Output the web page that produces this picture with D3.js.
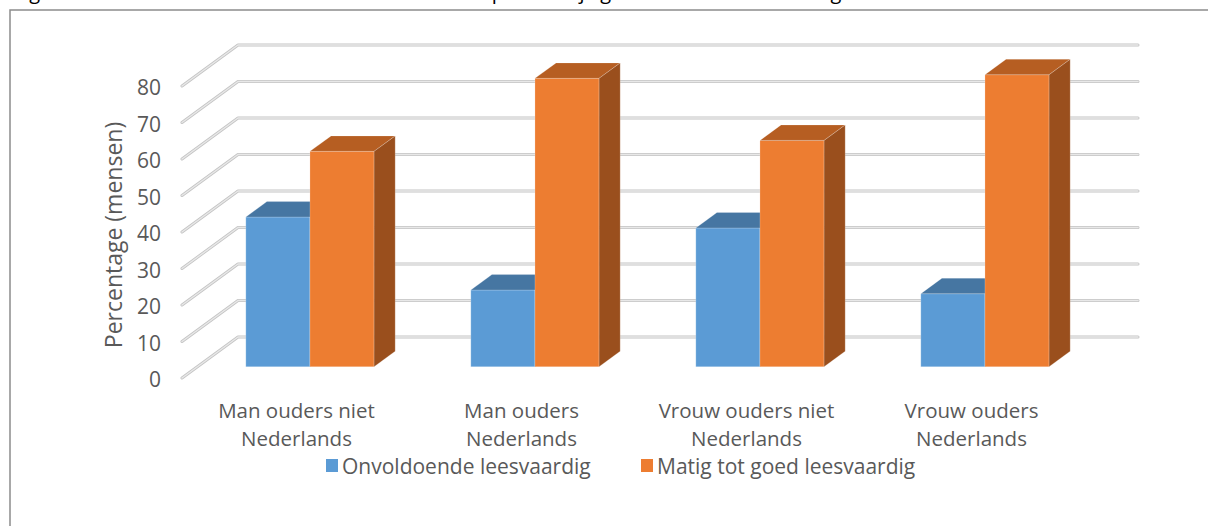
<!DOCTYPE html>
<html>
<head>
<meta charset="utf-8">
<script src="https://cdn.jsdelivr.net/npm/d3@7"></script>
<style>
  body { margin: 0; background: #fff; }
  svg { display: block; font-family: 'Open Sans', sans-serif; }
</style>
</head>
<body>
<div id="vis"></div>
<script>

var categories = ['Man ouders niet Nederlands', 'Man ouders Nederlands', 'Vrouw ouders niet Nederlands', 'Vrouw ouders Nederlands'];
var catLines = [['Man ouders niet', 'Nederlands'], ['Man ouders', 'Nederlands'], ['Vrouw ouders niet', 'Nederlands'], ['Vrouw ouders', 'Nederlands']];
var series = ['Onvoldoende leesvaardig', 'Matig tot goed leesvaardig'];
var onvoldoende = [41, 21, 38, 20];
var matig = [59, 79, 62, 80];
var yTicks = [0, 10, 20, 30, 40, 50, 60, 70, 80];

var width = 1208;
var height = 526;

// 3d depth offset of the plot box
var DX = 56, DY = 41;
var d0 = 0.276, d1 = 0.653;

var colors = {
    front: ['#5B9BD5', '#ED7D31'],
    top: ['#4676A2', '#B65E22'],
    side: ['#3E6A93', '#9A4F1D']
};

var svg = d3.select('#vis').append('svg')
    .attr('width', width)
    .attr('height', height);

// caption, mostly cut off by the top of the page
svg.append('text')
    .attr('x', 14)
    .attr('y', -1)
    .attr('font-size', 20)
    .attr('fill', '#000')
    .text('Figuur 10: Scores van mannen en vrouwen naar respectievelijk geboorteland ouders en geslacht');

svg.append('rect')
    .attr('x', 10).attr('y', 10)
    .attr('width', 1400).attr('height', 700)
    .attr('fill', 'none')
    .attr('stroke', '#8c8c8c')
    .attr('stroke-width', 1.5);

var y = d3.scaleLinear().domain([0, 80]).range([378, 86]);
var x = d3.scaleBand().domain(categories).range([182, 1082])
    .paddingInner(0.43).paddingOuter(0.215);
var xs = d3.scaleBand().domain(series).range([0, x.bandwidth()]);

function P(xf, v, d) {
    return [xf + d * DX, y(v) - d * DY];
}

var line = d3.line();

// walls
var grid = svg.append('g');
yTicks.forEach(function (v) {
    var pts = [P(182, v, 0), P(182, v, 1), P(1082, v, 1)];
    grid.append('path')
        .attr('d', line(pts))
        .attr('fill', 'none')
        .attr('stroke', '#c4c4c4')
        .attr('stroke-width', 3)
        .attr('stroke-linejoin', 'round')
        .attr('stroke-linecap', 'round');
    grid.append('path')
        .attr('d', line(pts))
        .attr('fill', 'none')
        .attr('stroke', '#e8e8e8')
        .attr('stroke-width', 1.4)
        .attr('stroke-linejoin', 'round')
        .attr('stroke-linecap', 'round');
});

// tick labels
svg.append('g').selectAll('text')
    .data(yTicks)
    .enter().append('text')
    .attr('x', 161)
    .attr('y', function (d) { return y(d) + 1; })
    .attr('text-anchor', 'end')
    .attr('dominant-baseline', 'central')
    .attr('font-size', 21)
    .attr('fill', '#595959')
    .text(function (d) { return d; });

svg.append('text')
    .attr('transform', 'translate(122,235) rotate(-90)')
    .attr('text-anchor', 'middle')
    .attr('font-size', 23)
    .attr('fill', '#595959')
    .text('Percentage (mensen)');

// bars
var bars = [];
categories.forEach(function (c, i) {
    [onvoldoende[i], matig[i]].forEach(function (v, s) {
        bars.push({ cat: c, s: s, value: v });
    });
});

var barG = svg.append('g');
bars.forEach(function (b) {
    var x0 = x(b.cat) + xs(series[b.s]);
    var x1 = x0 + xs.bandwidth();
    var v = b.value;
    var g = barG.append('g');
    g.append('path')
        .attr('d', line([P(x0, 0, d0), P(x1, 0, d0), P(x1, v, d0), P(x0, v, d0)]) + 'Z')
        .attr('fill', colors.front[b.s]);
    g.append('path')
        .attr('d', line([P(x0, v, d0), P(x1, v, d0), P(x1, v, d1), P(x0, v, d1)]) + 'Z')
        .attr('fill', colors.top[b.s]);
    g.append('path')
        .attr('d', line([P(x1, 0, d0), P(x1, v, d0), P(x1, v, d1), P(x1, 0, d1)]) + 'Z')
        .attr('fill', colors.side[b.s]);
    g.selectAll('path')
        .attr('stroke', 'rgba(255,255,255,0.25)')
        .attr('stroke-width', 0.8)
        .attr('stroke-linejoin', 'round');
});

// category labels
var catG = svg.append('g');
categories.forEach(function (c, i) {
    catLines[i].forEach(function (t, j) {
        catG.append('text')
            .attr('x', x(c) + x.bandwidth() / 2 + 2)
            .attr('y', 410 + j * 28)
            .attr('text-anchor', 'middle')
            .attr('dominant-baseline', 'central')
            .attr('font-size', 20.5)
            .attr('fill', '#595959')
            .text(t);
    });
});

// legend
var legendX = [326, 641];
var legend = svg.append('g');
series.forEach(function (s, i) {
    legend.append('rect')
        .attr('x', legendX[i]).attr('y', 459)
        .attr('width', 12).attr('height', 13)
        .attr('fill', colors.front[i]);
    legend.append('text')
        .attr('x', legendX[i] + 16)
        .attr('y', 466)
        .attr('dominant-baseline', 'central')
        .attr('font-size', 21)
        .attr('fill', '#595959')
        .text(s);
});

</script>
</body>
</html>
